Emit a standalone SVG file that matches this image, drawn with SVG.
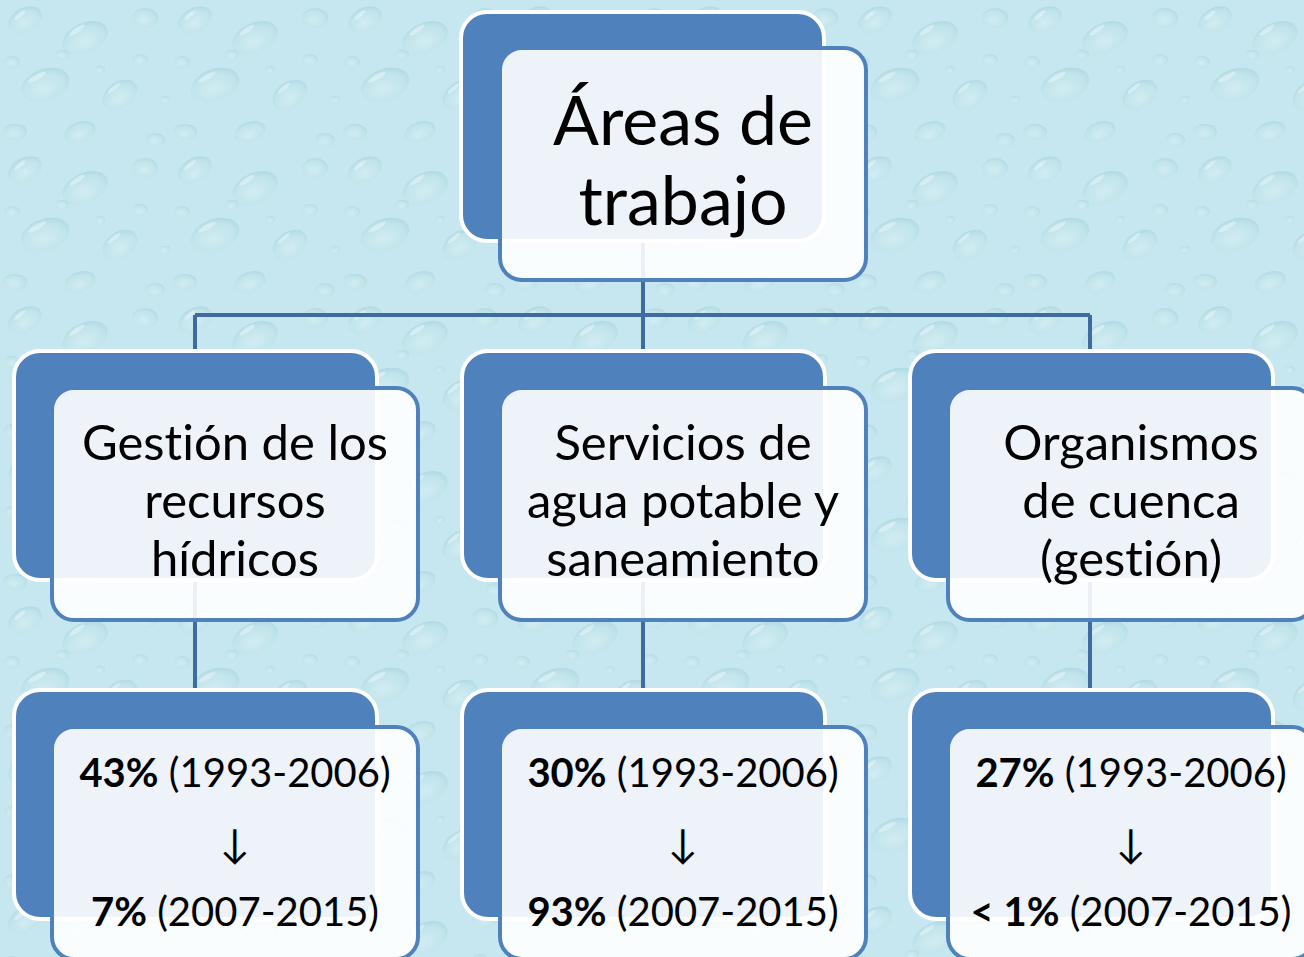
<svg xmlns="http://www.w3.org/2000/svg" width="1304" height="957" viewBox="0 0 1304 957">
<defs>
<radialGradient id="drop" cx="0.45" cy="0.6" r="0.6">
<stop offset="0" stop-color="#d6eff4"/>
<stop offset="0.75" stop-color="#bfe2ea"/>
<stop offset="1" stop-color="#a9d4e0"/>
</radialGradient>
<pattern id="bg" width="170" height="150" patternUnits="userSpaceOnUse">
<rect width="170" height="150" fill="#c6e7ef"/>
<g fill="url(#drop)" opacity="0.7">
<ellipse cx="25" cy="20" rx="18" ry="12" transform="rotate(-30 25 20)"/>
<ellipse cx="85" cy="38" rx="24" ry="15" transform="rotate(-25 85 38)"/>
<ellipse cx="145" cy="18" rx="13" ry="10"/>
<ellipse cx="45" cy="85" rx="25" ry="16" transform="rotate(-20 45 85)"/>
<ellipse cx="120" cy="95" rx="19" ry="13" transform="rotate(-35 120 95)"/>
<ellipse cx="15" cy="132" rx="12" ry="8"/>
<ellipse cx="80" cy="132" rx="16" ry="10" transform="rotate(-20 80 132)"/>
<ellipse cx="155" cy="140" rx="10" ry="7"/>
<ellipse cx="62" cy="55" rx="7" ry="5"/>
<ellipse cx="140" cy="60" rx="8" ry="6"/>
<ellipse cx="12" cy="62" rx="8" ry="6"/>
<ellipse cx="100" cy="70" rx="5" ry="4"/>
<ellipse cx="165" cy="100" rx="6" ry="4"/>
</g>
<g fill="#ffffff" opacity="0.35">
<ellipse cx="20" cy="15" rx="7" ry="2" transform="rotate(-40 20 15)"/>
<ellipse cx="77" cy="30" rx="9" ry="2.5" transform="rotate(-35 77 30)"/>
<ellipse cx="37" cy="77" rx="10" ry="2.5" transform="rotate(-30 37 77)"/>
<ellipse cx="114" cy="88" rx="8" ry="2" transform="rotate(-40 114 88)"/>
</g>
</pattern>
<style>
.back{fill:#4f81bd;stroke:#ffffff;stroke-width:4}
.front{fill:#ffffff;fill-opacity:0.9;stroke:#4f81bd;stroke-width:4}
.conn{fill:none;stroke:#3f6b9f;stroke-width:4}
.t{font-family:Lato,"Open Sans","Liberation Sans",sans-serif;fill:#000000;text-anchor:middle;font-variant-ligatures:none}
.big{font-size:68px}
.mid{font-size:49px}
.sm{font-size:40px}
.b{font-weight:bold}
</style>
</defs>
<rect width="1304" height="957" fill="url(#bg)"/>
<g id="connectors">
<path class="conn" d="M643,240 V315 M195,315 H1090 M195,315 V350 M643,315 V350 M1090,315 V350"/>
<path class="conn" d="M195,580 V690 M643,580 V690 M1090,580 V690"/>
</g>
<g id="n-top">
<rect class="back" x="461" y="12" width="363" height="229" rx="26"/>
<rect class="front" x="500" y="48" width="366" height="232" rx="22"/>
<text class="t big"><tspan x="683" y="145">Áreas de</tspan><tspan x="683" y="225">trabajo</tspan></text>
</g>
<g id="n-gestion">
<rect class="back" x="14" y="351" width="363" height="229" rx="26"/>
<rect class="front" x="52" y="388" width="366" height="232" rx="22"/>
<text class="t mid"><tspan x="235" y="460">Gestión de los</tspan><tspan x="235" y="518">recursos</tspan><tspan x="235" y="576">hídricos</tspan></text>
</g>
<g id="n-servicios">
<rect class="back" x="462" y="351" width="363" height="229" rx="26"/>
<rect class="front" x="500" y="388" width="366" height="232" rx="22"/>
<text class="t mid"><tspan x="683" y="460">Servicios de</tspan><tspan x="683" y="518">agua potable y</tspan><tspan x="683" y="576">saneamiento</tspan></text>
</g>
<g id="n-organismos">
<rect class="back" x="910" y="351" width="363" height="229" rx="26"/>
<rect class="front" x="948" y="388" width="366" height="232" rx="22"/>
<text class="t mid"><tspan x="1131" y="460">Organismos</tspan><tspan x="1131" y="518">de cuenca</tspan><tspan x="1131" y="576">(gestión)</tspan></text>
</g>
<g id="n-43">
<rect class="back" x="14" y="690" width="363" height="229" rx="26"/>
<rect class="front" x="52" y="727" width="366" height="232" rx="22"/>
<text class="t sm"><tspan x="235" y="787"><tspan class="b">43%</tspan> (1993-2006)</tspan><tspan x="235" y="858">↓</tspan><tspan x="235" y="926"><tspan class="b">7%</tspan> (2007-2015)</tspan></text>
</g>
<g id="n-30">
<rect class="back" x="462" y="690" width="363" height="229" rx="26"/>
<rect class="front" x="500" y="727" width="366" height="232" rx="22"/>
<text class="t sm"><tspan x="683" y="787"><tspan class="b">30%</tspan> (1993-2006)</tspan><tspan x="683" y="858">↓</tspan><tspan x="683" y="926"><tspan class="b">93%</tspan> (2007-2015)</tspan></text>
</g>
<g id="n-27">
<rect class="back" x="910" y="690" width="363" height="229" rx="26"/>
<rect class="front" x="948" y="727" width="366" height="232" rx="22"/>
<text class="t sm"><tspan x="1131" y="787"><tspan class="b">27%</tspan> (1993-2006)</tspan><tspan x="1131" y="858">↓</tspan><tspan x="1131" y="926"><tspan class="b">&lt; 1%</tspan> (2007-2015)</tspan></text>
</g>
</svg>
